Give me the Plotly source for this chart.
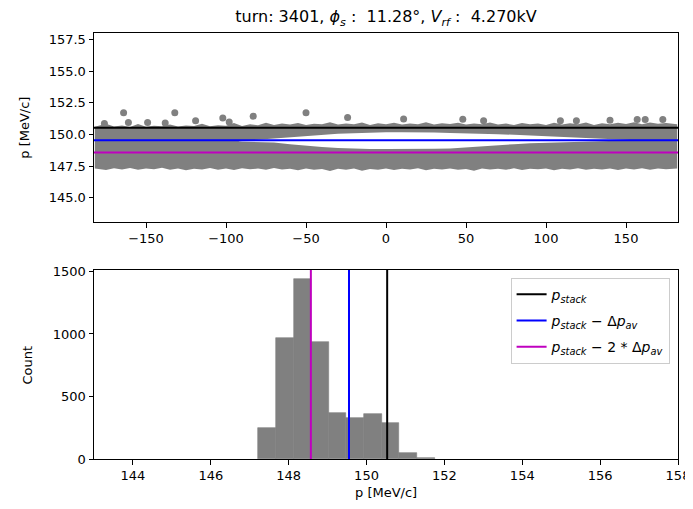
import plotly.graph_objects as go

# ---------------- data ----------------
p_stack = 150.53
p_stack_m1 = 149.55   # p_stack - dp_av
p_stack_m2 = 148.57   # p_stack - 2*dp_av

# scatter band envelope (phase [deg], momentum [MeV/c])
phi_env = [-182, -175, -170, -165, -160, -155, -150, -145, -140, -135, -130, -125, -120,
           -115, -110, -105, -100, -95, -90, -85, -80, -75, -70, -65, -60, -55, -50, -45,
           -40, -35, -30, -25, -20, -15, -10, -5, 0, 5, 10, 15, 20, 25, 30, 35, 40, 45, 50,
           55, 60, 65, 70, 75, 80, 85, 90, 95, 100, 105, 110, 115, 120, 125, 130, 135, 140,
           145, 150, 155, 160, 165, 170, 175, 182]
band_top = [150.62, 150.85, 150.64, 150.72, 150.6, 150.82, 150.62, 150.7, 150.66, 150.78,
            150.64, 150.72, 150.68, 150.84, 150.66, 150.74, 150.7, 150.9, 150.68, 150.8,
            150.74, 150.92, 150.76, 150.86, 150.78, 150.9, 150.76, 150.84, 150.8, 150.96,
            150.78, 150.86, 150.8, 150.94, 150.76, 150.88, 150.8, 150.92, 150.78, 150.86,
            150.8, 150.96, 150.78, 150.88, 150.82, 150.92, 150.78, 150.86, 150.8, 150.94,
            150.78, 150.86, 150.76, 150.9, 150.8, 150.86, 150.76, 150.92, 150.78, 150.88,
            150.8, 150.94, 150.76, 150.88, 150.8, 150.92, 150.82, 150.96, 150.8, 150.94,
            150.84, 150.9, 150.8]
band_bot = [147.3, 147.18, 147.32, 147.22, 147.34, 147.2, 147.3, 147.24, 147.36, 147.2,
            147.3, 147.16, 147.28, 147.22, 147.34, 147.2, 147.3, 147.18, 147.32, 147.24,
            147.3, 147.2, 147.34, 147.22, 147.28, 147.16, 147.3, 147.2, 147.26, 147.12,
            147.28, 147.2, 147.3, 147.14, 147.26, 147.2, 147.3, 147.18, 147.28, 147.22,
            147.32, 147.16, 147.28, 147.22, 147.3, 147.2, 147.26, 147.14, 147.3, 147.22,
            147.28, 147.2, 147.32, 147.18, 147.28, 147.24, 147.3, 147.16, 147.28, 147.22,
            147.32, 147.2, 147.28, 147.22, 147.3, 147.18, 147.3, 147.22, 147.32, 147.2,
            147.3, 147.24, 147.3]

# visible gap inside the band
phi_gap = [-92, -84, -70, -60, -50, -40, -30, -20, -10, 0, 10, 20, 30, 40, 50, 60, 70,
           80, 90, 100, 110, 120, 130, 140, 150, 156]
gap_top = [149.47, 149.55, 149.66, 149.78, 149.88, 149.98, 150.05, 150.1, 150.15, 150.18,
           150.18, 150.18, 150.15, 150.12, 150.1, 150.08, 150.02, 149.97, 149.92, 149.87,
           149.82, 149.77, 149.7, 149.63, 149.58, 149.55]
gap_bot = [149.45, 149.45, 149.36, 149.22, 149.1, 149.0, 148.93, 148.88, 148.85, 148.85,
           148.85, 148.85, 148.87, 148.9, 148.95, 149.05, 149.15, 149.23, 149.3, 149.35,
           149.4, 149.43, 149.47, 149.5, 149.53, 149.55]

# isolated particles above the band
out_phi = [-176, -164, -161, -149, -138, -132, -119, -102, -98, -83, -50, -24, 11, 48,
           61, 109, 119, 140, 157, 162, 173]
out_p = [150.87, 151.71, 150.95, 150.95, 150.9, 151.71, 151.08, 151.3, 150.98, 151.45,
         151.71, 151.35, 151.22, 151.2, 151.08, 151.08, 151.08, 151.13, 151.19, 151.19,
         151.19]

# histogram of momentum (bin edges and counts)
hist_edges = [147.22, 147.673, 148.126, 148.579, 149.032, 149.485, 149.938, 150.391,
              150.844, 151.297, 151.75]
hist_count = [250, 972, 1439, 937, 372, 329, 364, 292, 45, 10]

x_top_ticks = [-150, -100, -50, 0, 50, 100, 150]
y_top_ticks = [145.0, 147.5, 150.0, 152.5, 155.0, 157.5]
x_bot_ticks = [144, 146, 148, 150, 152, 154, 156, 158]
y_bot_ticks = [0, 500, 1000, 1500]

GREY = "#808080"
BLUE = "#0000ff"
MAG = "#bf00bf"
FONT = "DejaVu Sans"

X_TOP_RANGE = [-182.5, 182.5]
Y_TOP_RANGE = [143.05, 158.03]
X_BOT_RANGE = [143.0, 158.0]
Y_BOT_RANGE = [0, 1512]

# the page body adds an 8 px offset; size the figure so the plot lands as in the reference
OFF = 8
W, H = 693 - OFF, 509 - OFF

fig = go.Figure()

# ---------------- top: phase space ----------------
fig.add_trace(go.Scatter(
    x=phi_env + phi_env[::-1], y=band_top + band_bot[::-1],
    fill="toself", fillcolor=GREY, mode="lines", line=dict(width=0),
    hoverinfo="skip", showlegend=False, xaxis="x", yaxis="y"))
fig.add_trace(go.Scatter(
    x=phi_gap + phi_gap[::-1], y=gap_top + gap_bot[::-1],
    fill="toself", fillcolor="white", mode="lines", line=dict(width=0),
    hoverinfo="skip", showlegend=False, xaxis="x", yaxis="y"))
fig.add_trace(go.Scatter(
    x=out_phi, y=out_p,
    mode="markers", marker=dict(color=GREY, size=7, line=dict(width=0)),
    showlegend=False, xaxis="x", yaxis="y"))

for val, col in [(p_stack, "black"), (p_stack_m1, BLUE), (p_stack_m2, MAG)]:
    fig.add_trace(go.Scatter(
        x=X_TOP_RANGE, y=[val, val], mode="lines",
        line=dict(color=col, width=2), showlegend=False, xaxis="x", yaxis="y"))

# ---------------- bottom: histogram ----------------
centers = [(a + b) / 2 for a, b in zip(hist_edges[:-1], hist_edges[1:])]
widths = [b - a for a, b in zip(hist_edges[:-1], hist_edges[1:])]
fig.add_trace(go.Bar(
    x=centers, y=hist_count, width=widths,
    marker=dict(color=GREY, line=dict(width=0.6, color=GREY)), showlegend=False,
    xaxis="x2", yaxis="y2"))

legend_names = [
    "<i>p<sub>stack</sub></i>",
    "<i>p<sub>stack</sub></i> − Δ<i>p<sub>av</sub></i>",
    "<i>p<sub>stack</sub></i> − 2 * Δ<i>p<sub>av</sub></i>",
]
for i, (val, col, name) in enumerate(zip([p_stack, p_stack_m1, p_stack_m2],
                                         ["black", BLUE, MAG], legend_names)):
    fig.add_trace(go.Scatter(
        x=[val, val], y=Y_BOT_RANGE, mode="lines", line=dict(color=col, width=2),
        name=name, legendgroup=f"g{i}", xaxis="x2", yaxis="y2"))

axis_common = dict(
    showline=True, linecolor="black", linewidth=1, mirror=True,
    ticks="outside", ticklen=4.5, tickwidth=1, tickcolor="black",
    showgrid=False, zeroline=False, automargin=False,
    tickfont=dict(family=FONT, size=13, color="black"),
)

label_font = dict(family=FONT, size=13, color="black")

fig.update_layout(
    width=W, height=H,
    margin=dict(l=94 - OFF, r=15.3, t=33 - OFF, b=50, autoexpand=False),
    paper_bgcolor="white", plot_bgcolor="white",
    font=dict(family=FONT, size=13, color="black"),
    bargap=0,
    title=dict(
        text="turn: 3401, <i>ϕ<sub>s</sub></i> :  11.28°, <i>V<sub>rf</sub></i> :  4.270kV",
        x=0.5, xref="paper", xanchor="center",
        y=1 - 3 / H, yref="container", yanchor="top", automargin=False,
        font=dict(family=FONT, size=16, color="black")),
    xaxis=dict(axis_common, domain=[0, 1], anchor="y", range=X_TOP_RANGE,
               tickvals=x_top_ticks),
    yaxis=dict(axis_common, domain=[0.5556, 1], anchor="x", range=Y_TOP_RANGE,
               tickvals=y_top_ticks, tickformat=".1f"),
    xaxis2=dict(axis_common, domain=[0, 1], anchor="y2", range=X_BOT_RANGE,
                tickvals=x_bot_ticks),
    yaxis2=dict(axis_common, domain=[0, 0.4437], anchor="x2", range=Y_BOT_RANGE,
                tickvals=y_bot_ticks),
    annotations=[
        dict(text="p [MeV/c]", xref="paper", yref="paper", x=-0.1182, y=0.7775,
             textangle=-90, showarrow=False, xanchor="center", yanchor="middle",
             font=label_font),
        dict(text="Count", xref="paper", yref="paper", x=-0.1131, y=0.2218,
             textangle=-90, showarrow=False, xanchor="center", yanchor="middle",
             font=label_font),
        dict(text="p [MeV/c]", xref="paper", yref="paper", x=0.5, y=-0.0798,
             showarrow=False, xanchor="center", yanchor="middle", font=label_font),
    ],
    legend=dict(
        x=0.9856, y=0.4255, xanchor="right", yanchor="top",
        xref="paper", yref="paper",
        bgcolor="white", bordercolor="#cccccc", borderwidth=1,
        font=dict(family=FONT, size=14, color="black"),
        tracegroupgap=5,
    ),
)

fig.write_html("out.html")
